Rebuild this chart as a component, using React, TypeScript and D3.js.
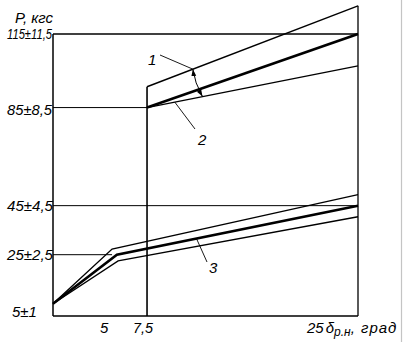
import React from "react";
import * as d3 from "d3";

// ---- data ----
const xDomain: [number, number] = [-0.3, 25];
const yDomain: [number, number] = [0, 115];

const yTickValues = [115, 85, 45, 25, 5];
const yTickLabels = ["115±11,5", "85±8,5", "45±4,5", "25±2,5", "5±1"];
const xTickLabels = ["5", "7,5"];

// lower band (curve 3)
const lowUpperX = [-0.3, 4.6, 25];
const lowUpperY = [5, 27.3, 49.5];
const lowMainX = [-0.3, 5.0, 25];
const lowMainY = [5, 25, 45];
const lowLowerX = [-0.3, 5.1, 25];
const lowLowerY = [5, 22.5, 40.5];

// upper band (curves 1, 2)
const highUpperX = [7.5, 25];
const highUpperY = [93.5, 126.5];
const highMainX = [7.5, 25];
const highMainY = [85, 115];
const highLowerX = [7.5, 25];
const highLowerY = [85, 102];

const jumpX = 7.5;

const W = 403;
const H = 342;

export default function App() {
  const x = d3.scaleLinear().domain(xDomain).range([53, 358]);
  const y = d3.scaleLinear().domain(yDomain).range([316, 34]);
  const line = d3
    .line<[number, number]>()
    .x((d) => x(d[0]))
    .y((d) => y(d[1]));
  const zip = (xs: number[], ys: number[]) =>
    xs.map((v, i) => [v, ys[i]] as [number, number]);
  const interp = (xs: number[], ys: number[], xv: number) => {
    for (let i = 0; i < xs.length - 1; i++) {
      if (xv >= xs[i] && xv <= xs[i + 1]) {
        const t = (xv - xs[i]) / (xs[i + 1] - xs[i]);
        return ys[i] + t * (ys[i + 1] - ys[i]);
      }
    }
    return ys[ys.length - 1];
  };

  const font = "'Liberation Sans', Arial, sans-serif";
  const x0 = x(xDomain[0]);
  const x1 = x(xDomain[1]);
  const yb = y(0);

  // annotation anchor points
  const a1x1 = 11.3;
  const a1y1 = interp(highUpperX, highUpperY, a1x1);
  const a1x2 = 12.1;
  const a1y2 = interp(highLowerX, highLowerY, a1x2);
  const p1 = [x(a1x1), y(a1y1)];
  const p2 = [x(a1x2), y(a1y2)];
  const l2x = 9.8;
  const l2y = interp(highLowerX, highLowerY, l2x);
  const l3x = 11.6;
  const l3y = interp(lowMainX, lowMainY, l3x);

  const yLabelOffsets = [5, 7, 5, 5, 13];
  const yLabelWidths = [45, 45, 46, 46, 25];

  return (
    <svg width={W} height={H} style={{ position: "absolute", left: 0, top: 0 }}>
      <defs>
        <marker
          id="ah"
          viewBox="0 0 10 10"
          refX="10"
          refY="5"
          markerWidth="7"
          markerHeight="7"
          orient="auto-start-reverse"
          markerUnits="userSpaceOnUse"
        >
          <path d="M0,1.5 L10,5 L0,8.5 Z" fill="#000" />
        </marker>
      </defs>
      <rect x={0} y={0} width={W} height={H} fill="#fff" />
      {/* page border artifact */}
      <line x1={401.5} x2={401.5} y1={0} y2={H} stroke="#c4c4c4" strokeWidth={1.2} />

      {/* gridlines */}
      <line x1={x0} x2={x1} y1={y(115)} y2={y(115)} stroke="#000" strokeWidth={1.3} />
      <line x1={x0} x2={x(jumpX)} y1={y(85)} y2={y(85)} stroke="#000" strokeWidth={1} />
      <line x1={x0} x2={x1} y1={y(45)} y2={y(45)} stroke="#000" strokeWidth={1} />
      <line x1={x0} x2={x(4.6)} y1={y(25)} y2={y(25)} stroke="#000" strokeWidth={1} />

      {/* axes / frame */}
      <line x1={x0} x2={x0} y1={y(115)} y2={yb} stroke="#000" strokeWidth={1.5} />
      <line x1={x0} x2={x1} y1={yb} y2={yb} stroke="#000" strokeWidth={1.5} />
      <line x1={x1} x2={x1} y1={y(highUpperY[1])} y2={yb} stroke="#000" strokeWidth={1.3} />
      <line
        x1={x(jumpX)}
        x2={x(jumpX)}
        y1={y(highUpperY[0])}
        y2={yb}
        stroke="#000"
        strokeWidth={1.6}
      />

      {/* lower band */}
      <path d={line(zip(lowUpperX, lowUpperY)) || ""} fill="none" stroke="#000" strokeWidth={1.4} />
      <path d={line(zip(lowMainX, lowMainY)) || ""} fill="none" stroke="#000" strokeWidth={2.6} />
      <path d={line(zip(lowLowerX, lowLowerY)) || ""} fill="none" stroke="#000" strokeWidth={1.4} />

      {/* upper band */}
      <path d={line(zip(highUpperX, highUpperY)) || ""} fill="none" stroke="#000" strokeWidth={1.4} />
      <path d={line(zip(highMainX, highMainY)) || ""} fill="none" stroke="#000" strokeWidth={2.6} />
      <path d={line(zip(highLowerX, highLowerY)) || ""} fill="none" stroke="#000" strokeWidth={1.4} />

      {/* annotation 1: tolerance arrow */}
      <path
        d={`M${p1[0]},${p1[1]} Q${(p1[0] + p2[0]) / 2 - 3},${(p1[1] + p2[1]) / 2} ${p2[0]},${p2[1]}`}
        fill="none"
        stroke="#000"
        strokeWidth={1}
        markerStart="url(#ah)"
        markerEnd="url(#ah)"
      />
      <line x1={160} y1={55} x2={p1[0]} y2={p1[1]} stroke="#000" strokeWidth={0.9} />
      <text x={148} y={65} fontFamily={font} fontStyle="italic" fontSize={15}>
        1
      </text>

      {/* annotation 2 */}
      <line x1={195} y1={129} x2={x(l2x)} y2={y(l2y)} stroke="#000" strokeWidth={0.9} />
      <text x={198} y={145} fontFamily={font} fontStyle="italic" fontSize={15}>
        2
      </text>

      {/* annotation 3 */}
      <line x1={207} y1={262} x2={x(l3x)} y2={y(l3y)} stroke="#000" strokeWidth={0.9} />
      <text x={209} y={273} fontFamily={font} fontStyle="italic" fontSize={15}>
        3
      </text>

      {/* y axis labels */}
      <text x={15} y={23} fontFamily={font} fontStyle="italic" fontSize={14} textLength={38} lengthAdjust="spacingAndGlyphs">
        P, кгс
      </text>
      {yTickValues.map((v, i) => (
        <text
          key={v}
          x={i === 4 ? 12 : 7}
          y={y(v) + yLabelOffsets[i]}
          fontFamily={font}
          fontStyle="italic"
          fontSize={14.5}
          textLength={yLabelWidths[i]}
          lengthAdjust="spacingAndGlyphs"
        >
          {yTickLabels[i]}
        </text>
      ))}

      {/* x axis labels */}
      <text x={100} y={333} fontFamily={font} fontStyle="italic" fontSize={15}>
        {xTickLabels[0]}
      </text>
      <text x={133} y={333} fontFamily={font} fontStyle="italic" fontSize={15} textLength={20} lengthAdjust="spacingAndGlyphs">
        {xTickLabels[1]}
      </text>
      <text x={307} y={333} fontFamily={font} fontStyle="italic" fontSize={15}>
        <tspan>25</tspan>
        <tspan dx={2}>δ</tspan>
        <tspan fontSize={12} dy={3}>р.н</tspan>
        <tspan dy={-3} letterSpacing={1}>, град</tspan>
      </text>
    </svg>
  );
}
